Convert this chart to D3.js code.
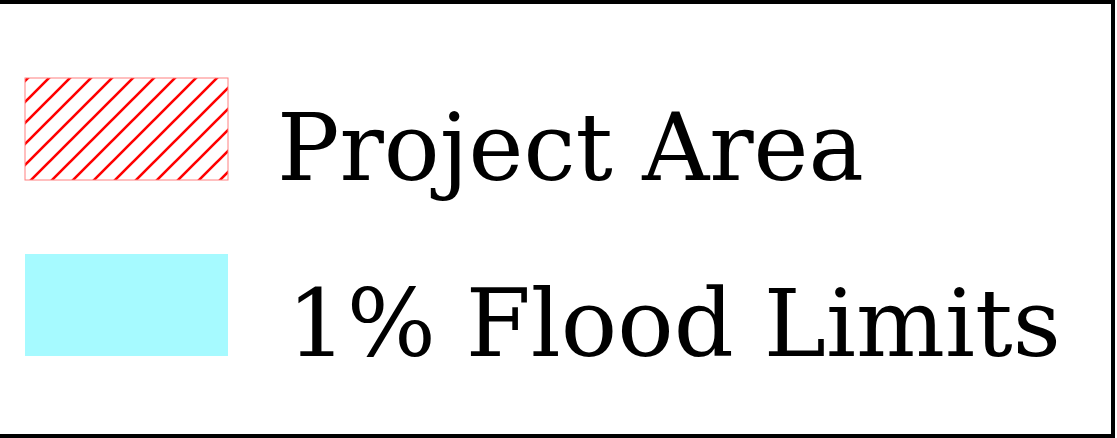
<!DOCTYPE html>
<html>
<head>
<meta charset="utf-8">
<script src="https://cdn.jsdelivr.net/npm/d3@7"></script>
<style>
  html, body { margin: 0; padding: 0; background: #fff; overflow: hidden; }
</style>
</head>
<body>
<div id="viz"></div>
<script>
// legend entries
var labels = ["Project Area", "1% Flood Limits"];
var kinds = ["hatch", "fill"];
var swatchColors = ["#ff0000", "#a6faff"];

var width = 1117;
var height = 438;
var swatchW = 203;
var swatchH = 102;
var fontSize = 94;

var svg = d3.select("#viz")
  .append("svg")
  .attr("width", width)
  .attr("height", height);

var defs = svg.append("defs");
var hatch = defs.append("pattern")
  .attr("id", "hatch")
  .attr("patternUnits", "userSpaceOnUse")
  .attr("width", 21)
  .attr("height", 21)
  .attr("x", 3)
  .attr("y", 0);
hatch.append("path")
  .attr("d", "M-3,24 L24,-3 M-3,3 L3,-3 M18,24 L24,18")
  .attr("stroke", swatchColors[0])
  .attr("stroke-width", 2.6);

// frame (left side runs off the picture)
svg.append("rect")
  .attr("x", -10)
  .attr("y", 2)
  .attr("width", 1123)
  .attr("height", 434)
  .attr("fill", "none")
  .attr("stroke", "#000")
  .attr("stroke-width", 4);

var rowY = d3.scalePoint()
  .domain(labels)
  .range([78, 254]);

var items = svg.selectAll("g.item")
  .data(labels)
  .enter()
  .append("g")
  .attr("class", "item")
  .attr("transform", function(d) { return "translate(25," + rowY(d) + ")"; });

items.append("rect")
  .attr("width", swatchW)
  .attr("height", swatchH)
  .attr("fill", function(d, i) {
    return kinds[i] === "hatch" ? "url(#hatch)" : swatchColors[i];
  })
  .attr("stroke", function(d, i) { return kinds[i] === "hatch" ? "#ff8080" : "none"; })
  .attr("stroke-width", 1);

var targetW = [587, 774];
var startX = [277, 287];

items.append("text")
  .text(function(d) { return d; })
  .attr("x", 250)
  .attr("y", swatchH)
  .attr("font-family", "'DejaVu Serif', serif")
  .attr("font-size", fontSize + "px")
  .attr("fill", "#000")
  .each(function(d, i) {
    var t = d3.select(this);
    var bb = this.getBBox();
    var s = targetW[i] / bb.width;
    t.attr("transform", "translate(" + (startX[i] - 25) + ",0) scale(" + s + ",1) translate(" + (-bb.x) + ",0)");
  });
</script>
</body>
</html>
